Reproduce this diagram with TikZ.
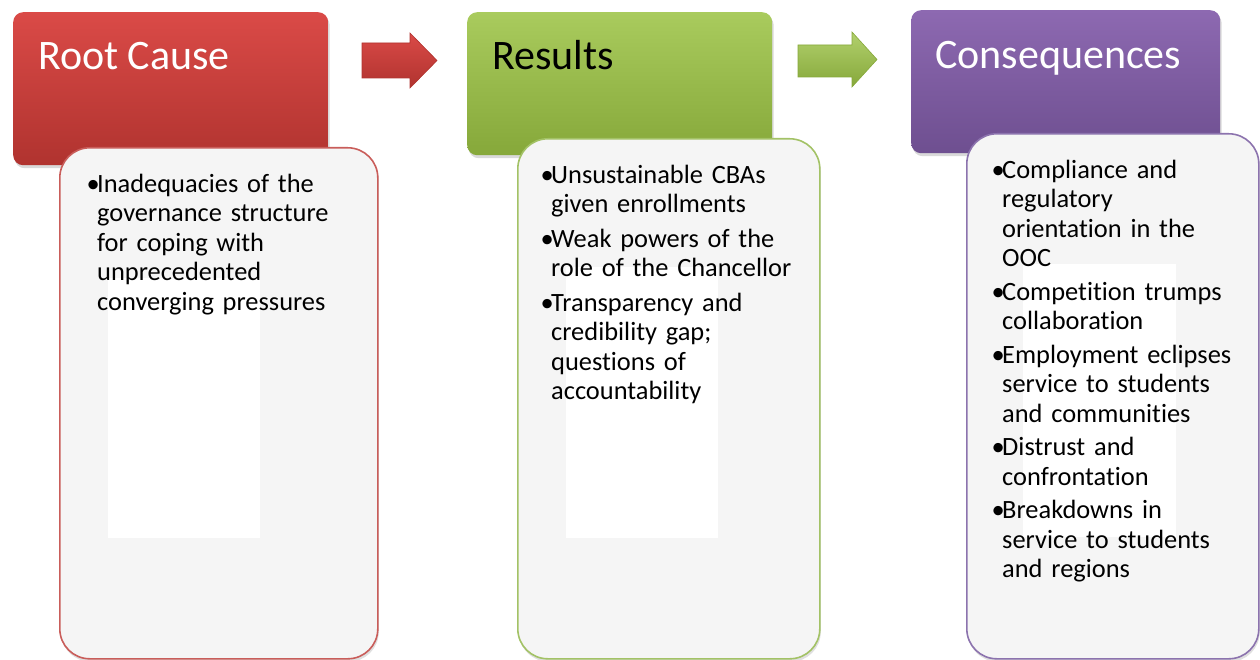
\documentclass[tikz,border=0pt]{standalone}
\usepackage{fontspec}
\setmainfont{Carlito}[Ligatures={NoCommon}]
\usetikzlibrary{shadows}
\definecolor{redT}{HTML}{DA4A47}
\definecolor{redB}{HTML}{B0332F}
\definecolor{redE}{HTML}{C95D5A}
\definecolor{grnT}{HTML}{A9CB5D}
\definecolor{grnB}{HTML}{86A83A}
\definecolor{grnE}{HTML}{A3C266}
\definecolor{purT}{HTML}{8D69B1}
\definecolor{purB}{HTML}{6E4F90}
\definecolor{purE}{HTML}{8C73AE}
\definecolor{boxF}{HTML}{F5F5F5}
\newcommand{\bul}{\makebox[9.5pt][l]{\hspace{-1.2pt}\textbullet}}
\newcommand{\ind}{\hspace*{9.5pt}}
\begin{document}
\begin{tikzpicture}[x=1pt,y=-1pt,
  hdr/.style={rounded corners=10pt, anchor=north west, inner sep=0pt,
    drop shadow={opacity=0.3,shadow xshift=1.5pt,shadow yshift=-3pt}},
  tbox/.style={rounded corners=30pt, anchor=north west, inner sep=0pt,
    fill=boxF, line width=1.6pt,
    drop shadow={opacity=0.25,shadow xshift=1pt,shadow yshift=-3pt}},
  ttl/.style={anchor=base west, inner sep=0pt, font=\fontsize{42}{50}\selectfont},
  body/.style={anchor=north west, inner sep=0pt, text width=300pt, align=left,
    font=\fontsize{26.4}{29.5}\selectfont},
  patch/.style={fill=white, draw=none},
  blk/.style={line width=0.6pt}
]
\useasboundingbox (0,0) rectangle (1260,660);

% headers
\node[hdr, top color=redT, bottom color=redB, minimum width=315pt, minimum height=153pt] (rc) at (13,12) {};
\node[hdr, top color=grnT, bottom color=grnB, minimum width=305pt, minimum height=143pt] (rs) at (467,12) {};
\node[hdr, top color=purT, bottom color=purB, minimum width=309pt, minimum height=143pt] (cq) at (911,10) {};

\node[ttl, text=white] (rct) at (38,70) {Root Cause};
\node[ttl, text=black] (rst) at (492,70) {Results};
\node[ttl, text=white] (cqt) at (935,69) {Consequences};

% block arrows
\shade[blk, top color=redT, bottom color=redB, draw=redB]
  (362,43) -- (410,43) -- (410,33) -- (437,60.5) -- (410,88) -- (410,78) -- (362,78) -- cycle;
\shade[blk, top color=grnT!90!white, bottom color=grnB, draw=grnB]
  (798,45) -- (852,45) -- (852,32) -- (877,59.5) -- (852,87) -- (852,77) -- (798,77) -- cycle;

% text boxes
\node[tbox, draw=redE, minimum width=318pt, minimum height=511pt] (rcb) at (59,147) {};
\node[tbox, draw=grnE, minimum width=302pt, minimum height=520pt] (rsb) at (517,138) {};
\node[tbox, draw=purE, minimum width=292pt, minimum height=525pt] (cqb) at (966,133) {};

% white patches
\fill[patch] (108,278) rectangle (260,538);
\fill[patch] (566,267) rectangle (718,538);
\fill[patch] (1023,264) rectangle (1176,537);

% body texts
\node[body] (rcx) at (87.5,171.5) {\strut\bul Inadequacies of the\\
\ind governance structure\\
\ind for coping with\\
\ind unprecedented\\
\ind converging pressures};

\node[body] (rsx) at (541.5,162.5) {\strut\bul Unsustainable CBAs\\
\ind given enrollments\\[5pt]
\bul Weak powers of the\\
\ind role of the Chancellor\\[5pt]
\bul Transparency and\\
\ind credibility gap;\\
\ind questions of\\
\ind accountability};

\node[body] (cqx) at (992.5,157.5) {\strut\bul Compliance and\\
\ind regulatory\\
\ind orientation in the\\
\ind OOC\\[4pt]
\bul Competition trumps\\
\ind collaboration\\[4pt]
\bul Employment eclipses\\
\ind service to students\\
\ind and communities\\[4pt]
\bul Distrust and\\
\ind confrontation\\[4pt]
\bul Breakdowns in\\
\ind service to students\\
\ind and regions};
\end{tikzpicture}
\end{document}
